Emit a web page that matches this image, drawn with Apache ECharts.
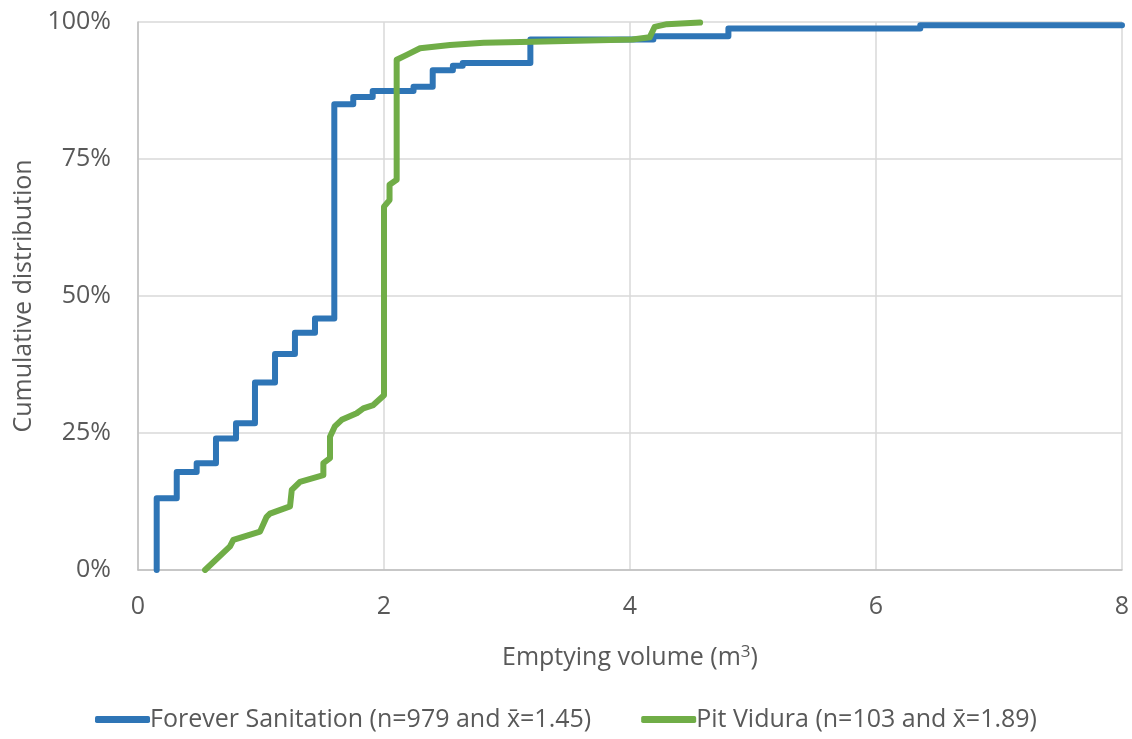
<!DOCTYPE html>
<html>
<head>
<meta charset="utf-8">
<script src="https://cdn.jsdelivr.net/npm/echarts@6/dist/echarts.min.js"></script>
<style>html,body{margin:0;padding:0;background:#fff;}#c{width:1132px;height:739px;}</style>
</head>
<body>
<div id="c"></div>
<script>
// Emptying volume (m3) vs cumulative distribution (%)
const foreverSanitation = [
  [0.152, 0], [0.152, 13.1], [0.315, 17.9], [0.477, 19.5], [0.634, 24.0], [0.797, 26.8],
  [0.951, 34.2], [1.114, 39.4], [1.276, 43.3], [1.439, 45.9], [1.596, 85.0], [1.75, 86.3],
  [1.908, 87.4], [2.24, 88.2], [2.396, 91.2], [2.56, 92.0], [2.64, 92.5], [3.19, 96.8],
  [4.19, 97.4], [4.80, 98.8], [6.36, 99.4], [8.0, 99.5]
];
const pitVidura = [
  [0.545, 0], [0.748, 4.3], [0.775, 5.5], [0.992, 7.0], [1.046, 9.7], [1.073, 10.3],
  [1.236, 11.6], [1.25, 14.6], [1.317, 16.1], [1.507, 17.3], [1.507, 19.5], [1.561, 20.4],
  [1.561, 24.3], [1.60, 26.2], [1.656, 27.4], [1.778, 28.6], [1.832, 29.5], [1.913, 30.1],
  [2.0, 31.9], [2.0, 66.3], [2.045, 67.5], [2.045, 70.3], [2.103, 71.2], [2.103, 93.1],
  [2.185, 94.0], [2.293, 95.2], [2.537, 95.8], [2.81, 96.2], [3.21, 96.4], [4.02, 96.8],
  [4.16, 97.2], [4.2, 99.1], [4.30, 99.6], [4.57, 99.9]
];
const seriesNames = ['Forever Sanitation (n=979 and x\u0304=1.45)', 'Pit Vidura (n=103 and x\u0304=1.89)'];
const xTicks = { min: 0, max: 8, interval: 2 };
const yTicks = { min: 0, max: 100, interval: 25 };

const FONT = '"Open Sans", sans-serif';
const GREY = '#595959';
const chart = echarts.init(document.getElementById('c'));
chart.setOption({
  animation: false,
  textStyle: { fontFamily: FONT },
  grid: { left: 138, right: 10, top: 22, bottom: 169, containLabel: false, outerBoundsMode: 'none' },
  legend: {
    top: 707,
    left: 'center',
    padding: 0,
    itemWidth: 55,
    itemHeight: 7,
    itemGap: 50,
    icon: 'roundRect',
    textStyle: { fontSize: 25, color: GREY, fontFamily: FONT, padding: [0, 0, 0, -5] },
    data: seriesNames
  },
  xAxis: {
    type: 'value',
    min: xTicks.min, max: xTicks.max, interval: xTicks.interval,
    name: 'Emptying volume (m{sup|3})',
    nameLocation: 'middle',
    nameGap: 74,
    nameTextStyle: {
      fontSize: 25, color: GREY,
      rich: { sup: { fontSize: 17, color: GREY, fontFamily: FONT, padding: [0, 0, 11, 0] } }
    },
    axisLine: { lineStyle: { color: '#bfbfbf', width: 1.5 } },
    axisTick: { show: false },
    axisLabel: { fontSize: 25, color: GREY, margin: 24 },
    splitLine: { show: true, lineStyle: { color: '#d9d9d9', width: 1.5 } }
  },
  yAxis: {
    type: 'value',
    min: yTicks.min, max: yTicks.max, interval: yTicks.interval,
    name: 'Cumulative distribution',
    nameLocation: 'middle',
    nameGap: 102,
    nameTextStyle: { fontSize: 25, color: GREY },
    axisLine: { show: true, lineStyle: { color: '#bfbfbf', width: 1.5 } },
    axisTick: { show: false },
    axisLabel: { fontSize: 25, color: GREY, margin: 27, formatter: '{value}%' },
    splitLine: { show: true, lineStyle: { color: '#d9d9d9', width: 1.5 } }
  },
  series: [
    {
      name: seriesNames[0], type: 'line', step: 'end', data: foreverSanitation,
      showSymbol: false, symbol: 'none',
      itemStyle: { color: '#2E75B6' },
      lineStyle: { color: '#2E75B6', width: 6, cap: 'round', join: 'round' }
    },
    {
      name: seriesNames[1], type: 'line', data: pitVidura,
      showSymbol: false, symbol: 'none',
      itemStyle: { color: '#70AD47' },
      lineStyle: { color: '#70AD47', width: 6, cap: 'round', join: 'round' }
    }
  ]
});
</script>
</body>
</html>
